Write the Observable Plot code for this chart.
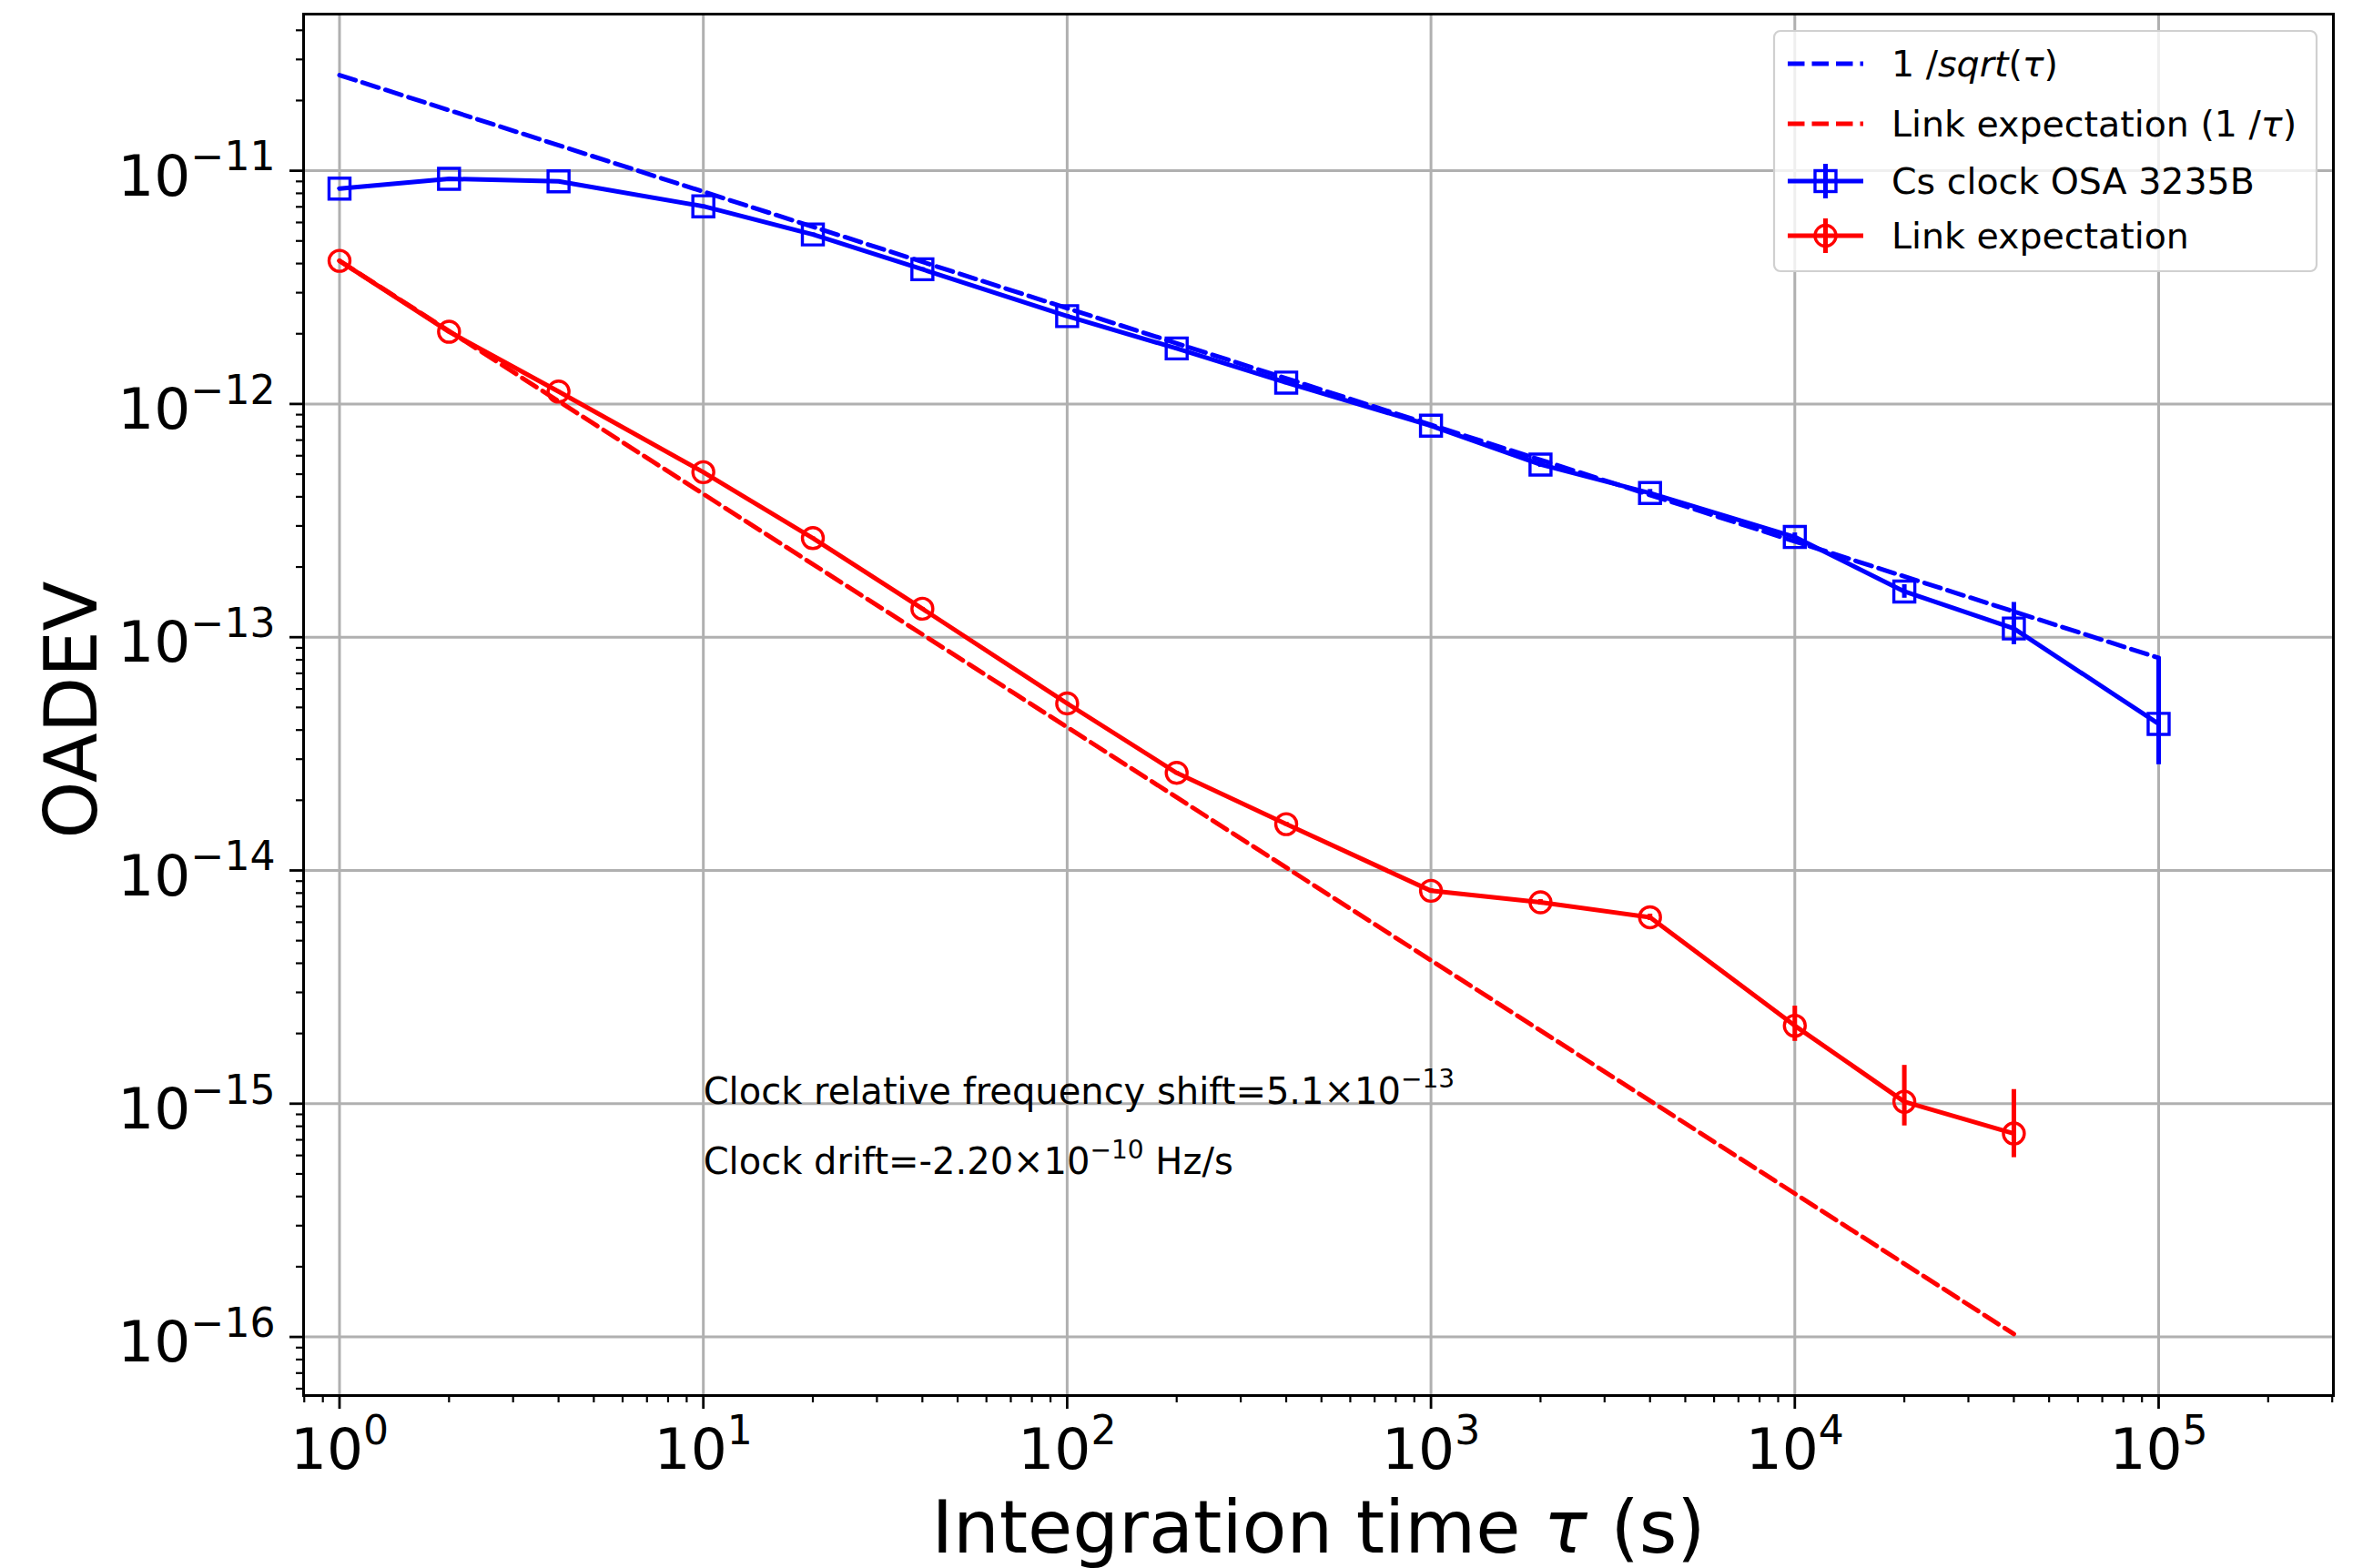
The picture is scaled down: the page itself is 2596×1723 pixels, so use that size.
<!DOCTYPE html>
<html>
<head>
<meta charset="utf-8">
<script src="https://cdn.jsdelivr.net/npm/d3@7"></script>
<script src="https://cdn.jsdelivr.net/npm/@observablehq/plot@0.6"></script>
<style>
  html, body { margin: 0; padding: 0; background: #fff; overflow: hidden; }
  #chart svg { display: block; }
</style>
</head>
<body>
<div id="chart"></div>
<script>
// Overlapping Allan deviation of the Cs clock and the link expectation

// Cs clock OSA 3235B
const tauCs = [1, 2, 4, 10, 20, 40, 100, 200, 400, 1e3, 2e3, 4e3, 1e4, 2e4, 4e4, 1e5];
const adevCs = [8.38e-12, 9.23e-12, 9.01e-12, 7.04e-12, 5.33e-12, 3.78e-12, 2.38e-12, 1.73e-12, 1.235e-12, 8.07e-13, 5.5e-13, 4.15e-13, 2.69e-13, 1.57e-13, 1.09e-13, 4.25e-14];
const adevCsLow = [8.3e-12, 9.15e-12, 8.9e-12, 6.95e-12, 5.25e-12, 3.72e-12, 2.34e-12, 1.70e-12, 1.21e-12, 7.9e-13, 5.35e-13, 4.0e-13, 2.58e-13, 1.47e-13, 9.29e-14, 2.84e-14];
const adevCsHigh = [8.46e-12, 9.31e-12, 9.12e-12, 7.13e-12, 5.41e-12, 3.84e-12, 2.42e-12, 1.76e-12, 1.26e-12, 8.24e-13, 5.65e-13, 4.3e-13, 2.8e-13, 1.68e-13, 1.41e-13, 8.2e-14];

// Link expectation
const tauLink = [1, 2, 4, 10, 20, 40, 100, 200, 400, 1e3, 2e3, 4e3, 1e4, 2e4, 4e4];
const adevLink = [4.11e-12, 2.04e-12, 1.13e-12, 5.1e-13, 2.66e-13, 1.325e-13, 5.2e-14, 2.62e-14, 1.58e-14, 8.18e-15, 7.3e-15, 6.3e-15, 2.16e-15, 1.02e-15, 7.45e-16];
const adevLinkLow = [4.08e-12, 2.02e-12, 1.12e-12, 5.05e-13, 2.63e-13, 1.31e-13, 5.13e-14, 2.58e-14, 1.55e-14, 8.0e-15, 7.1e-15, 6.1e-15, 1.85e-15, 8.03e-16, 5.87e-16];
const adevLinkHigh = [4.14e-12, 2.06e-12, 1.14e-12, 5.15e-13, 2.69e-13, 1.34e-13, 5.27e-14, 2.66e-14, 1.61e-14, 8.35e-15, 7.5e-15, 6.5e-15, 2.62e-15, 1.46e-15, 1.15e-15];

// Reference slopes (end points of the straight log-log guides)
const tauSqrtRef = [1, 1e5];
const adevSqrtRef = [2.57e-11, 8.15e-14];
const tauInvRef = [1, 4e4];
const adevInvRef = [4.11e-12, 1.03e-16];

// Annotations
const noteTau = [10, 10];
const noteAdev = [1e-15, 5e-16];
const noteText = ["Clock relative frequency shift=5.1×10^{−13}", "Clock drift=-2.20×10^{−10} Hz/s"];

// Axes
const xDecades = [1, 10, 100, 1e3, 1e4, 1e5];
const yDecades = [1e-16, 1e-15, 1e-14, 1e-13, 1e-12, 1e-11];
const xLabel = "Integration time *{τ} (s)";
const yLabel = "OADEV";

// Legend
const legendLabels = ["1 /*{sqrt}(*{τ})", "Link expectation (1 /*{τ})", "Cs clock OSA 3235B", "Link expectation"];

const BLUE = "#0000ff", RED = "#ff0000";
const xDomain = [10 ** -0.0988, 10 ** 5.4804];
const yDomain = [10 ** -16.2513, 10 ** -10.3285];

const rows = (t, v, lo, hi) => t.map((tau, i) => ({tau, adev: v[i], lo: lo ? lo[i] : null, hi: hi ? hi[i] : null}));
const cs = rows(tauCs, adevCs, adevCsLow, adevCsHigh);
const link = rows(tauLink, adevLink, adevLinkLow, adevLinkHigh);
const sqrtRef = rows(tauSqrtRef, adevSqrtRef);
const invRef = rows(tauInvRef, adevInvRef);
const notes = noteTau.map((tau, i) => ({tau, adev: noteAdev[i], text: noteText[i]}));

const minorTicks = ([a, b]) => {
  const out = [];
  for (let e = Math.floor(Math.log10(a)); e <= Math.ceil(Math.log10(b)); e++)
    for (let m = 2; m <= 9; m++) {
      const v = m * 10 ** e;
      if (v >= a && v <= b) out.push(v);
    }
  return out;
};
const pow10 = d => {
  const e = Math.round(Math.log10(d));
  return "10^{" + (e < 0 ? "\u2212" + (-e) : String(e)) + "}";
};

const lw = 5;
const dash = "18.5,8";

const chart = Plot.plot({
  width: 2596,
  height: 1723,
  marginLeft: 333,
  marginRight: 33,
  marginTop: 15,
  marginBottom: 190,
  style: {fontFamily: "DejaVu Sans", background: "#ffffff", color: "#000000"},
  x: {type: "log", domain: xDomain},
  y: {type: "log", domain: yDomain},
  marks: [
    // grid
    Plot.ruleX(xDecades, {stroke: "#b0b0b0", strokeWidth: 3}),
    Plot.ruleY(yDecades, {stroke: "#b0b0b0", strokeWidth: 3}),
    // reference slopes
    Plot.line(sqrtRef, {x: "tau", y: "adev", stroke: BLUE, strokeWidth: lw, strokeDasharray: dash}),
    Plot.line(invRef, {x: "tau", y: "adev", stroke: RED, strokeWidth: lw, strokeDasharray: dash}),
    // Cs clock
    Plot.line(cs, {x: "tau", y: "adev", stroke: BLUE, strokeWidth: lw}),
    Plot.ruleX(cs, {x: "tau", y1: "lo", y2: "hi", stroke: BLUE, strokeWidth: lw}),
    Plot.dot(cs, {x: "tau", y: "adev", symbol: "square", r: 13, stroke: BLUE, strokeWidth: 3.4, fill: "none"}),
    // link expectation
    Plot.line(link, {x: "tau", y: "adev", stroke: RED, strokeWidth: lw}),
    Plot.ruleX(link, {x: "tau", y1: "lo", y2: "hi", stroke: RED, strokeWidth: lw}),
    Plot.dot(link, {x: "tau", y: "adev", symbol: "circle", r: 11.5, stroke: RED, strokeWidth: 3.4, fill: "none"}),
    // annotations
    Plot.text(notes, {x: "tau", y: "adev", text: "text", textAnchor: "start", lineAnchor: "bottom", fontSize: 40, fill: "#000"}),
    // axes
    Plot.frame({stroke: "#000", strokeWidth: 3}),
    Plot.axisX({ticks: xDecades, tickSize: 15, strokeWidth: 2.8, tickFormat: () => "", label: null}),
    Plot.axisX({ticks: minorTicks(xDomain), tickSize: 8, strokeWidth: 2.2, tickFormat: () => "", label: null}),
    Plot.axisY({ticks: yDecades, tickSize: 15, strokeWidth: 2.8, tickFormat: () => "", label: null}),
    Plot.axisY({ticks: minorTicks(yDomain), tickSize: 8, strokeWidth: 2.2, tickFormat: () => "", label: null}),
    Plot.text(xDecades, {x: d => d, frameAnchor: "bottom", lineAnchor: "top", dy: 36, text: pow10, fontSize: 63, fill: "#000"}),
    Plot.text(yDecades, {y: d => d, frameAnchor: "left", textAnchor: "end", dx: -31, dy: 7, text: pow10, fontSize: 63, fill: "#000"}),
    Plot.text([xLabel], {frameAnchor: "bottom", lineAnchor: "bottom", dy: 172, fontSize: 80, fill: "#000"})
  ]
});

// Turn ^{...} into superscripts and *{...} into italics
const SVGNS = "http://www.w3.org/2000/svg";
function markup(node) {
  const s = node.textContent;
  if (!/[\^*]\{/.test(s)) return;
  while (node.firstChild) node.removeChild(node.firstChild);
  const re = /([\^*])\{([^}]*)\}/g;
  let last = 0, m, raised = false;
  const add = (txt, kind) => {
    if (!txt) return;
    const t = document.createElementNS(SVGNS, "tspan");
    t.textContent = txt;
    if (kind === "sup") {
      t.setAttribute("font-size", "70%");
      t.setAttribute("dy", "-0.62em");
      raised = true;
    } else {
      if (raised) { t.setAttribute("dy", "0.434em"); raised = false; }
      if (kind === "it") t.setAttribute("font-style", "italic");
    }
    node.appendChild(t);
  };
  while ((m = re.exec(s))) {
    add(s.slice(last, m.index), "plain");
    add(m[2], m[1] === "^" ? "sup" : "it");
    last = re.lastIndex;
  }
  add(s.slice(last), "plain");
}
d3.select(chart).selectAll("text").each(function () { markup(this); });

const svg = d3.select(chart);

// Y axis title, rotated, centred on the frame
const frameMid = (15 + (1723 - 190)) / 2;
svg.append("text")
  .attr("transform", `translate(106,${frameMid + 6}) rotate(-90)`)
  .attr("text-anchor", "middle")
  .attr("font-family", "DejaVu Sans")
  .attr("font-size", 80)
  .attr("fill", "#000")
  .text(yLabel);

// Legend box in the upper right corner of the frame
const legend = svg.append("g")
  .attr("font-family", "DejaVu Sans")
  .attr("font-size", 39.5)
  .attr("text-anchor", "start");
legend.append("rect")
  .attr("x", 1949).attr("y", 34).attr("width", 596).attr("height", 264)
  .attr("rx", 7).attr("fill", "#ffffff").attr("fill-opacity", 0.8)
  .attr("stroke", "#d0d0d0").attr("stroke-width", 2.2);
const legendRows = [
  {color: BLUE, dashed: true},
  {color: RED, dashed: true},
  {color: BLUE, symbol: "square"},
  {color: RED, symbol: "circle"}
];
const rowY = [70, 136, 199, 259];
legendRows.forEach((r, i) => {
  const cy = rowY[i];
  legend.append("line")
    .attr("x1", 1964).attr("x2", 2047).attr("y1", cy).attr("y2", cy)
    .attr("stroke", r.color).attr("stroke-width", lw)
    .attr("stroke-dasharray", r.dashed ? dash : null);
  if (r.symbol) {
    legend.append("line")
      .attr("x1", 2005.5).attr("x2", 2005.5).attr("y1", cy - 19).attr("y2", cy + 19)
      .attr("stroke", r.color).attr("stroke-width", lw);
    if (r.symbol === "square") {
      legend.append("rect").attr("x", 2005.5 - 11.5).attr("y", cy - 11.5).attr("width", 23).attr("height", 23)
        .attr("fill", "none").attr("stroke", r.color).attr("stroke-width", 3.4);
    } else {
      legend.append("circle").attr("cx", 2005.5).attr("cy", cy).attr("r", 11.5)
        .attr("fill", "none").attr("stroke", r.color).attr("stroke-width", 3.4);
    }
  }
  const t = legend.append("text").attr("x", 2078).attr("y", cy + 14).attr("fill", "#000").text(legendLabels[i]);
  markup(t.node());
});

document.getElementById("chart").appendChild(chart);
</script>
</body>
</html>
